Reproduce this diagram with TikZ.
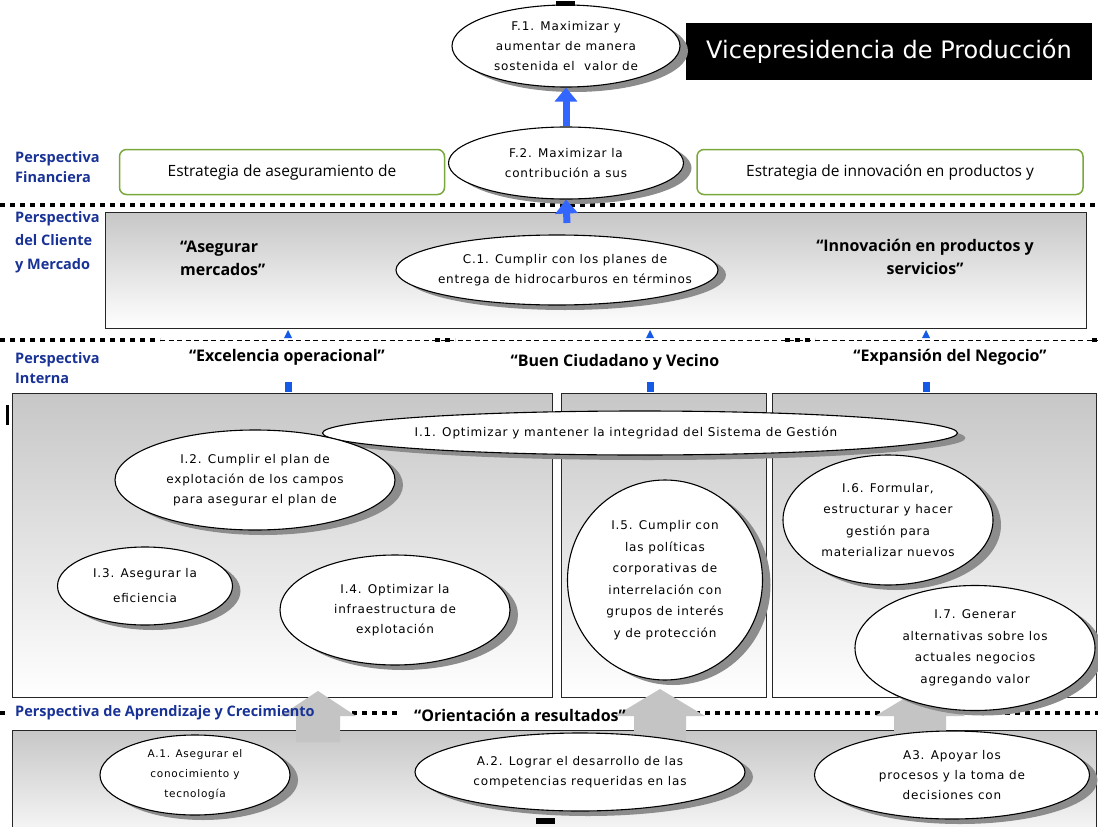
\documentclass[tikz,border=0pt]{standalone}
\usepackage{fontspec}
\setmainfont{DejaVu Sans}
\newfontfamily\ptsans{PT Sans}
\newfontfamily\osans{Open Sans}
\newfontfamily\dvs[LetterSpace=7]{DejaVu Sans}
\newfontfamily\dvt{DejaVu Sans}
\usetikzlibrary{shapes.geometric,shadows,arrows.meta}
\definecolor{pblue}{RGB}{25,50,150}
\definecolor{arrblue}{RGB}{51,102,255}
\definecolor{sqblue}{RGB}{20,90,230}
\definecolor{greenb}{RGB}{122,168,60}
\definecolor{shgray}{RGB}{140,140,140}
\definecolor{bigarr}{RGB}{196,196,196}
\tikzset{
  ellbox/.style={ellipse, draw=black, line width=1.1pt, fill=white, inner sep=0pt,
    drop shadow={fill=shgray, opacity=1, shadow xshift=8pt, shadow yshift=-5pt}},
  elltext/.style={align=center, font=\dvs\fontsize{12}{20}\selectfont, inner sep=0pt},
  persp/.style={anchor=west, align=left, text=pblue, inner sep=0pt, font=\osans\bfseries\fontsize{14.5}{20}\selectfont},
  hdg/.style={align=center, inner sep=0pt, font=\osans\bfseries\fontsize{16}{23}\selectfont},
  gbox/.style={draw=greenb, line width=1.5pt, rounded corners=7pt, fill=white, font=\osans\fontsize{15.5}{18}\selectfont},
  sqdots/.style={line width=4pt, dash pattern=on 5pt off 5pt},
  thindash/.style={line width=0.8pt, dash pattern=on 5pt off 3.5pt},
  panel/.style={draw=black!85, line width=1.3pt, top color=black!22, bottom color=white, inner sep=0pt},
  bluearr/.style={line width=7pt, arrblue, -{Triangle[width=22pt,length=14pt]}},
  grayarr/.style={fill=bigarr, draw=none},
  bluesq/.style={fill=sqblue, draw=none},
  artefact/.style={fill=black, draw=none},
}
\newcommand\ellip[7]{% name, x, y, w, h, text, extra text style
  \node[ellbox, minimum width=#4pt, minimum height=#5pt] (#1) at (#2,#3) {};
  \node[elltext,#7] (#1t) at (#1.center) {#6};
}
\begin{document}
\begin{tikzpicture}[x=1pt,y=-1pt]
\useasboundingbox (0,0) rectangle (1098,827);
\clip (0,0) rectangle (1098,827);
\fill[white] (0,0) rectangle (1098,827);

% ---------- panels ----------
\node[panel, anchor=north west, minimum width=981pt, minimum height=116pt] (Cbox) at (105,212) {};
\node[panel, anchor=north west, minimum width=540pt, minimum height=304pt] (Lbox) at (12,393) {};
\node[panel, anchor=north west, minimum width=205pt, minimum height=304pt] (Mbox) at (561,393) {};
\node[panel, anchor=north west, minimum width=324pt, minimum height=304pt] (Rbox) at (772,393) {};
\node[panel, anchor=north west, minimum width=1084pt, minimum height=120pt] (Abox) at (12,730) {};

% ---------- title ----------
\node[fill=black, text=white, minimum width=406pt, minimum height=57pt, inner sep=0pt,
      font=\dvt\fontsize{24}{28}\selectfont] (title) at (889,51.5) {Vicepresidencia de Producción};

% ---------- strategy boxes ----------
\node[gbox, minimum width=325pt, minimum height=45pt] (estL) at (282,172) {Estrategia de aseguramiento de};
\node[gbox, minimum width=386pt, minimum height=45pt] (estR) at (890,172) {Estrategia de innovación en productos y};

% ---------- separators ----------
\draw[sqdots] (0,205) -- (1098,205);
\draw[sqdots] (0,340) -- (160,340);
\draw[thindash] (160,340) -- (1098,340);
\draw[sqdots] (435,340) -- (455,340);
\draw[sqdots] (785,340) -- (815,340);
\draw[sqdots] (1092,340) -- (1098,340);
\draw[sqdots] (0,713) -- (8,713);
\draw[sqdots] (342,713) -- (400,713);
\draw[sqdots] (645,713) -- (1098,713);

% ---------- small blue markers ----------
\foreach \xx/\nm in {288/a,650/b,926/c}{
  \fill[bluesq] (\xx-4,338) -- (\xx+4,338) -- (\xx,330) -- cycle;
  \fill[bluesq] (\xx-3.5,382) rectangle (\xx+3.5,392);
}

% ---------- big gray arrows ----------
\fill[grayarr] (318,691) -- (356,716) -- (340,716) -- (340,742) -- (296,742) -- (296,716) -- (280,716) -- cycle;
\fill[grayarr] (660,689) -- (705,716) -- (686,716) -- (686,742) -- (634,742) -- (634,716) -- (615,716) -- cycle;
\fill[grayarr] (920,689) -- (965,716) -- (946,716) -- (946,742) -- (894,742) -- (894,716) -- (875,716) -- cycle;

% ---------- perspective labels ----------
\node[persp] (pF) at (15,167) {Perspectiva\\Financiera};
\node[persp, font=\osans\bfseries\fontsize{14.5}{23.5}\selectfont] (pC) at (15,242) {Perspectiva\\del Cliente\\y Mercado};
\node[persp] (pI) at (15,368) {Perspectiva\\Interna};
\node[persp] (pA) at (15,713) {Perspectiva de Aprendizaje y Crecimiento};

% ---------- headings ----------
\node[hdg, anchor=west, align=left] (hAM) at (180,258) {“Asegurar\\mercados”};
\node[hdg] (hIP) at (925,257) {“Innovación en productos y\\servicios”};
\node[hdg] (hEO) at (287,357) {“Excelencia operacional”};
\node[hdg] (hBC) at (615,362) {“Buen Ciudadano y Vecino};
\node[hdg] (hEN) at (950,357) {“Expansión del Negocio”};
\node[hdg] (hOR) at (520,715) {“Orientación a resultados”};

% ---------- ellipses ----------
\ellip{F1}{566}{46}{228}{82}{F.1. Maximizar y\\aumentar de manera\\sostenida el\ \ valor de}{}
\ellip{F2}{566}{163}{235}{72}{F.2. Maximizar la\\contribución a sus}{}
\ellip{C1}{557}{270}{322}{70}{C.1. Cumplir con los planes de\\entrega de hidrocarburos en términos}{xshift=8pt}
\ellip{I1}{640}{433}{635}{44}{I.1. Optimizar y mantener la integridad del Sistema de Gestión}{xshift=-14pt}
\ellip{I2}{255}{480}{280}{100}{I.2. Cumplir el plan de\\explotación de los campos\\para asegurar el plan de}{}
\ellip{I3}{145}{586}{175}{78}{I.3. Asegurar la\\eficiencia}{font=\dvs\fontsize{12}{25}\selectfont}
\ellip{I4}{395}{610}{230}{110}{I.4. Optimizar la\\infraestructura de\\explotación}{}
\ellip{I5}{665}{580}{195}{200}{I.5. Cumplir con\\las políticas\\corporativas de\\interrelación con\\grupos de interés\\y de protección}{font=\dvs\fontsize{12}{21.5}\selectfont}
\ellip{I6}{888}{520}{210}{130}{I.6. Formular,\\estructurar y hacer\\gestión para\\materializar nuevos}{font=\dvs\fontsize{12}{21.5}\selectfont}
\ellip{I7}{975}{648}{240}{125}{I.7. Generar\\alternativas sobre los\\actuales negocios\\agregando valor}{font=\dvs\fontsize{12}{21.5}\selectfont}
\ellip{A1}{195}{775}{190}{80}{A.1. Asegurar el\\conocimiento y\\tecnología}{font=\dvs\fontsize{10.5}{20}\selectfont}
\ellip{A2}{580}{772}{330}{78}{A.2. Lograr el desarrollo de las\\competencias requeridas en las}{}
\ellip{A3}{952}{775}{275}{88}{A3. Apoyar los\\procesos y la toma de\\decisiones con}{}

% ---------- blue arrows ----------
\coordinate (cstart) at (567,223);
\draw[bluearr] (F2.north) -- (F1.south);
\draw[bluearr] (cstart) -- (F2.south);

% ---------- small black artefacts ----------
\fill[artefact] (556,1) rectangle (575,6);
\fill[artefact] (536,818) rectangle (555,824);
\fill[artefact] (6,405) rectangle (8.5,425);
\end{tikzpicture}
\end{document}
